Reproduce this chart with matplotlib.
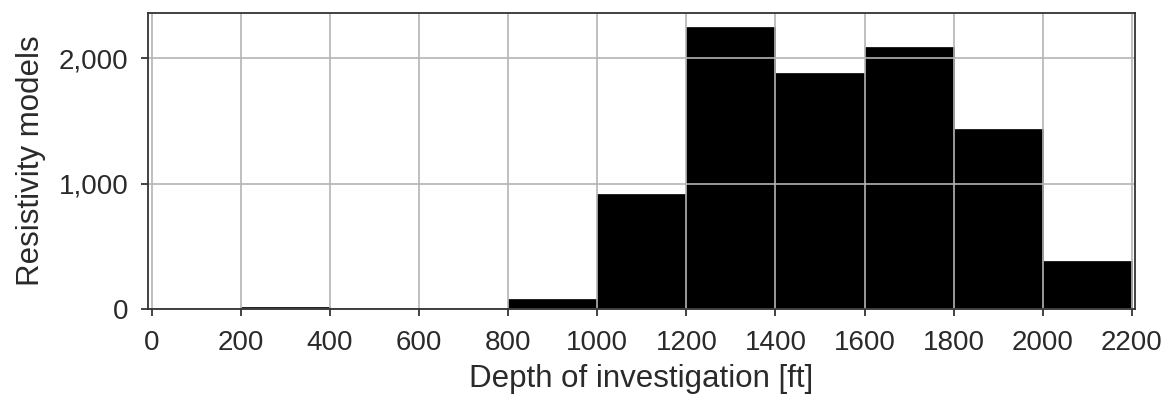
import matplotlib
matplotlib.use("Agg")
import matplotlib.pyplot as plt
from matplotlib.ticker import FuncFormatter

bin_edges = [0, 200, 400, 600, 800, 1000, 1200, 1400, 1600, 1800, 2000, 2200]
counts = [0, 18, 6, 0, 80, 915, 2248, 1880, 2088, 1440, 386]
x_ticks = [0, 200, 400, 600, 800, 1000, 1200, 1400, 1600, 1800, 2000, 2200]
y_ticks = [0, 1000, 2000]

plt.rcParams['font.family'] = ['Liberation Sans', 'DejaVu Sans']

fig = plt.figure(figsize=(11.73, 3.96), dpi=100)
ax = fig.add_axes([0.126, 0.22, 0.8416, 0.747])

lefts = bin_edges[:-1]
widths = [bin_edges[i + 1] - bin_edges[i] for i in range(len(lefts))]
ax.bar(lefts, counts, width=widths, align='edge', color='black',
       edgecolor='black', linewidth=0.5, zorder=1)

ax.set_axisbelow(False)
ax.grid(True, color='#b4b4b4', linewidth=1.2, zorder=3)

ax.set_xlim(-9, 2207)
ax.set_ylim(0, 2362)
ax.set_xticks(x_ticks)
ax.set_yticks(y_ticks)
ax.yaxis.set_major_formatter(FuncFormatter(lambda v, p: f"{int(v):,}"))

for s in ax.spines.values():
    s.set_color('#333333')
    s.set_linewidth(1.3)
    s.set_zorder(4)

ax.tick_params(axis='both', direction='out', length=5, width=1.2,
               color='#222222', labelsize=20, labelcolor='#2a2a2a')
ax.tick_params(axis='x', pad=10)
ax.tick_params(axis='y', pad=9)

ax.set_xlabel('Depth of investigation [ft]', fontsize=22.5, color='#2a2a2a', labelpad=6)
ax.set_ylabel('Resistivity models', fontsize=22.5, color='#2a2a2a', labelpad=9)

fig.savefig('out.png', dpi=100, facecolor='white')
